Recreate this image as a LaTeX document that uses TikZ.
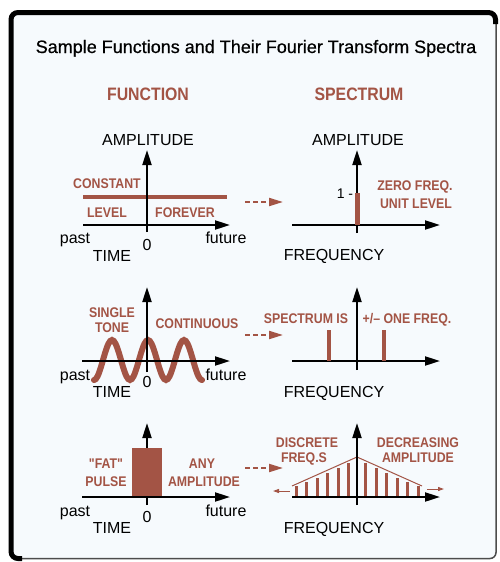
\documentclass[tikz,border=0pt]{standalone}
\usepackage{fontspec}
\setmainfont{Liberation Sans}
\newfontfamily\condfont[FakeStretch=0.88]{Liberation Sans}
\newfontfamily\titlefont[FakeBold=0.6]{Liberation Sans}
\usetikzlibrary{arrows.meta}
\definecolor{rust}{RGB}{163,84,69}
\definecolor{panel}{RGB}{246,250,253}

\begin{document}
\begin{tikzpicture}[x=1pt,y=-1pt,
        txt/.style={inner sep=0pt,anchor=base,font=\fontsize{16}{19}\selectfont},
        redtxt/.style={inner sep=0pt,anchor=base,text=rust,font=\condfont\bfseries\fontsize{14}{16}\selectfont},
        head/.style={inner sep=0pt,anchor=base,text=rust,font=\condfont\bfseries\fontsize{18}{21}\selectfont},
        axis/.style={line width=2pt,-{Triangle[length=15pt,width=9pt]}},
        goes/.style={rust,line width=2pt,dash pattern=on 5pt off 3pt,-{Triangle[length=14pt,width=8pt]}}]
            \useasboundingbox (0,0) rectangle (499,562);
            \fill[panel,rounded corners=6pt] (11,12.5) rectangle (496,558.5);
            \draw[black!70,line width=1.5pt,rounded corners=6pt] (11,12.5) rectangle (496,558.5);
            \draw[line width=5pt,rounded corners=7pt] (22,558.5) -- (11,558.5) -- (11,12.5) -- (495.5,12.5) -- (495.5,24);
            \node[txt,font=\titlefont\fontsize{18}{21}\selectfont] (title) at (256,53) {Sample Functions and Their Fourier Transform Spectra};
            \node[head] (funchead) at (148,100) {FUNCTION};
            \node[head] (spechead) at (359,100) {SPECTRUM};

            \node[txt] (ampA) at (148,145) {AMPLITUDE};
            \draw[rust,line width=4pt] (83,197) -- (227,197);
            \draw[axis] (83,225) -- (230,225);
            \draw[axis] (147,232) -- (147,150);
            \node[redtxt] (constA) at (107,188) {CONSTANT};
            \node[redtxt] (levelA) at (107,217) {LEVEL};
            \node[redtxt] (foreverA) at (185,217) {FOREVER};
            \node[txt] (pastA) at (75,243) {past};
            \node[txt] (zeroA) at (147,250) {0};
            \node[txt] (futureA) at (226,243) {future};
            \node[txt] (timeA) at (112,261) {TIME};
            \coordinate (fromA) at (245,202);
            \coordinate (toA) at (283,202);
            \draw[goes] (fromA) -- (toA);

            \node[txt] (ampB) at (358,145) {AMPLITUDE};
            \draw[axis] (292,225) -- (440,225);
            \draw[axis] (357,233) -- (357,150);
            \draw[rust,line width=5pt] (357,193) -- (357,225);
            \node[txt,font=\fontsize{14}{16}\selectfont] (oneB) at (345,198) {1 -};
            \node[redtxt] (zeroB) at (415,190) {ZERO FREQ.};
            \node[redtxt] (unitB) at (416,208) {UNIT LEVEL};
            \node[txt] (freqB) at (334,260) {FREQUENCY};

            \draw[rust,line width=6pt,line cap=round,domain=94:202,smooth,variable=\x,samples=61] plot ({\x},{360-20*cos(10*(\x-148))});
            \draw[axis] (82,361) -- (230,361);
            \draw[axis] (147,372) -- (147,287);
            \node[redtxt] (singleC) at (112,317) {SINGLE};
            \node[redtxt] (toneC) at (112,332) {TONE};
            \node[redtxt] (contC) at (197,328) {CONTINUOUS};
            \node[txt] (pastC) at (75,380) {past};
            \node[txt] (zeroC) at (147,387) {0};
            \node[txt] (futureC) at (226,380) {future};
            \node[txt] (timeC) at (112,397) {TIME};
            \coordinate (fromC) at (245,335);
            \coordinate (toC) at (283,335);
            \draw[goes] (fromC) -- (toC);

            \draw[axis] (292,361) -- (440,361);
            \draw[axis] (357,370) -- (357,287);
            \draw[rust,line width=4pt] (329,330) -- (329,361);
            \draw[rust,line width=4pt] (384,330) -- (384,361);
            \node[redtxt] (specD) at (306,323) {SPECTRUM IS};
            \node[redtxt] (plusD) at (407,323) {+/– ONE FREQ.};
            \node[txt] (freqD) at (334,397) {FREQUENCY};

            \draw[axis] (82,497) -- (230,497);
            \draw[axis] (147,505) -- (147,423);
            \fill[rust] (132,448) rectangle (162,496);
            \node[redtxt] (fatE) at (106,468) {"FAT"};
            \node[redtxt] (pulseE) at (106,486) {PULSE};
            \node[redtxt] (anyE) at (202,468) {ANY};
            \node[redtxt] (amplE) at (204,486) {AMPLITUDE};
            \node[txt] (pastE) at (75,516) {past};
            \node[txt] (zeroE) at (147,522) {0};
            \node[txt] (futureE) at (226,516) {future};
            \node[txt] (timeE) at (112,533) {TIME};
            \coordinate (fromE) at (245,468);
            \coordinate (toE) at (283,468);
            \draw[goes] (fromE) -- (toE);

            \draw[rust,line width=3pt] (296,497) -- (296,486);
            \draw[rust,line width=3pt] (306.5,497) -- (306.5,482);
            \draw[rust,line width=3pt] (317,497) -- (317,478);
            \draw[rust,line width=3pt] (327.5,497) -- (327.5,473);
            \draw[rust,line width=3pt] (338,497) -- (338,468);
            \draw[rust,line width=3pt] (348.5,497) -- (348.5,463);
            \draw[rust,line width=3pt] (365.5,497) -- (365.5,463);
            \draw[rust,line width=3pt] (376,497) -- (376,468);
            \draw[rust,line width=3pt] (386.5,497) -- (386.5,473);
            \draw[rust,line width=3pt] (397,497) -- (397,478);
            \draw[rust,line width=3pt] (407.5,497) -- (407.5,482);
            \draw[rust,line width=3pt] (418,497) -- (418,486);
            \draw[rust,line width=1pt] (292,486) -- (357,457) -- (422,486);
            \coordinate (leftF) at (290,491);
            \coordinate (leftendF) at (273,491);
            \coordinate (rightF) at (427,489);
            \coordinate (rightendF) at (444,489);
            \draw[rust,line width=1pt,-{Triangle[length=6pt,width=4pt]}] (leftF) -- (leftendF);
            \draw[rust,line width=1pt,-{Triangle[length=6pt,width=4pt]}] (rightF) -- (rightendF);
            \draw[axis] (292,497) -- (440,497);
            \draw[axis] (357,505) -- (357,423);
            \node[redtxt] (discF) at (307,447) {DISCRETE};
            \node[redtxt] (freqsF) at (304,462) {FREQ.S};
            \node[redtxt] (decrF) at (418,447) {DECREASING};
            \node[redtxt] (amplF) at (418,462) {AMPLITUDE};
            \node[txt] (freqF) at (334,533) {FREQUENCY};
        \end{tikzpicture}
\end{document}
